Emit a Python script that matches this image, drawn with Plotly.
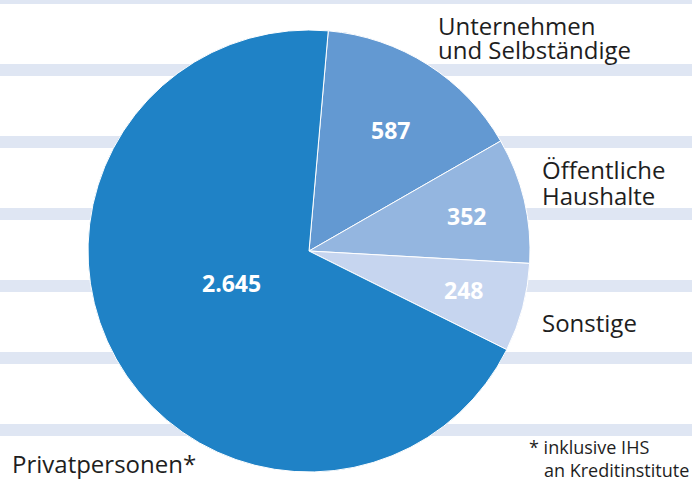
import math
import plotly.graph_objects as go

# ---- data ----
categories = ["Unternehmen und Selbständige", "Öffentliche Haushalte", "Sonstige", "Privatpersonen*"]
values = [587, 352, 248, 2645]
colors = ["#6399d2", "#94b6e0", "#c6d5ef", "#1f82c6"]
footnote = ["* inklusive IHS", "an Kreditinstitute"]

W, H = 692, 487
cx, cy, R = 309, 251, 221
rotation = 5


def px(x):
    return x / W


def py(y):
    return 1 - y / H


def fmt_de(v):
    return f"{v:,}".replace(",", ".")


fig = go.Figure(
    go.Pie(
        labels=categories,
        values=values,
        sort=False,
        direction="clockwise",
        rotation=rotation,
        marker=dict(colors=colors, line=dict(color="white", width=1)),
        textinfo="none",
        hoverinfo="label+value",
        domain=dict(x=[px(cx - R), px(cx + R)], y=[py(cy + R), py(cy - R)]),
        showlegend=False,
    )
)

# background stripes
shapes = []
for k in range(-1, 6):
    y0 = 64 + 72 * k
    shapes.append(dict(type="rect", xref="paper", yref="paper", x0=0, x1=1,
                       y0=py(y0 + 12), y1=py(y0), fillcolor="#dfe6f3",
                       line=dict(width=0), layer="below"))

annotations = []
# value labels inside the slices, placed along each slice's bisector
radial = [0.66, 0.73, 0.72, 0.38]
ang_off = [1.2, 0.8, -0.7, 7.0]
total = sum(values)
cum = 0
for v, rf, ao in zip(values, radial, ang_off):
    mid = rotation + (cum + v / 2) / total * 360 + ao
    cum += v
    a = math.radians(mid)
    x = cx + rf * R * math.sin(a)
    y = cy - rf * R * math.cos(a)
    annotations.append(dict(x=px(x), y=py(y), xref="paper", yref="paper",
                            text=f"<b>{fmt_de(v)}</b>", showarrow=False,
                            xanchor="center", yanchor="middle",
                            font=dict(family="Open Sans", size=23, color="white")))

# outside category labels (one annotation per line)
label_lines = [
    ("Unternehmen", 436, 25), ("und Selbständige", 436, 50),
    ("Öffentliche", 540, 170), ("Haushalte", 540, 195),
    ("Sonstige", 540, 322),
    ("Privatpersonen*", 10, 463),
]
for t, x, y in label_lines:
    annotations.append(dict(x=px(x), y=py(y), xref="paper", yref="paper", text=t,
                            showarrow=False, xanchor="left", yanchor="middle",
                            font=dict(family="Open Sans", size=24, color="#1e1e1e")))

for t, x, y in [(footnote[0], 527, 447), (footnote[1], 542, 470)]:
    annotations.append(dict(x=px(x), y=py(y), xref="paper", yref="paper", text=t,
                            showarrow=False, xanchor="left", yanchor="middle",
                            font=dict(family="Open Sans", size=18, color="#1e1e1e")))

fig.update_layout(
    width=W, height=H,
    margin=dict(l=0, r=0, t=0, b=0),
    paper_bgcolor="white", plot_bgcolor="white",
    shapes=shapes, annotations=annotations,
)

fig.write_html("out.html")
